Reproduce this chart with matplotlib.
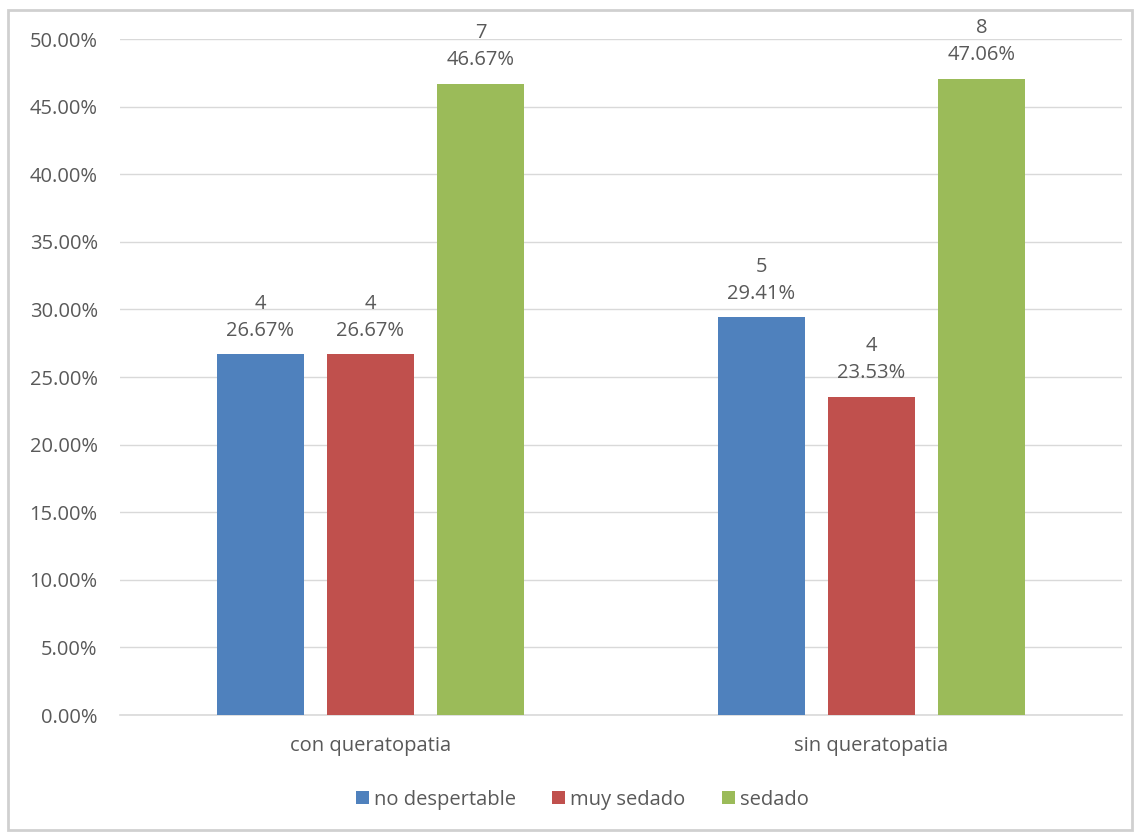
import matplotlib.pyplot as plt
import numpy as np
from matplotlib.patches import Rectangle
from matplotlib.ticker import FuncFormatter

plt.rcParams['font.family'] = ['Open Sans', 'DejaVu Sans']

groups = ["con queratopatia", "sin queratopatia"]
series = ["no despertable", "muy sedado", "sedado"]
counts = [[4, 5], [4, 4], [7, 8]]
percents = [[26.67, 29.41], [26.67, 23.53], [46.67, 47.06]]
colors = ["#4F81BD", "#C0504D", "#9BBB59"]

text_color = "#595959"
grid_color = "#D9D9D9"
fs = 14.5

fig = plt.figure(figsize=(11.35, 8.32), dpi=100)
ax = fig.add_axes([0.1057, 0.1406, 0.8828, 0.8125])

x = np.arange(len(groups))
width = 0.174
offsets = [-0.22, 0.0, 0.22]

for i, name in enumerate(series):
    vals = np.array(percents[i]) / 100
    bars = ax.bar(x + offsets[i], vals, width, color=colors[i], label=name, zorder=3)
    for b, c, p in zip(bars, counts[i], percents[i]):
        ax.annotate(f"{c}\n{p:.2f}%", (b.get_x() + b.get_width() / 2, b.get_height()),
                    xytext=(0, 10), textcoords="offset points", ha="center", va="bottom",
                    fontsize=fs, color=text_color, linespacing=1.45)

ax.set_xlim(-0.5, 1.5)
ax.set_ylim(0, 0.5)
ax.set_yticks(np.arange(0, 0.501, 0.05))
ax.yaxis.set_major_formatter(FuncFormatter(lambda v, _: f"{v * 100:.2f}%"))
ax.set_xticks(x)
ax.set_xticklabels(groups)
ax.tick_params(axis="both", length=0, labelsize=fs, labelcolor=text_color)
ax.tick_params(axis="x", pad=15)
ax.tick_params(axis="y", pad=16)
ax.grid(axis="y", color=grid_color, linewidth=1.0, zorder=0)
for s in ["top", "right", "left"]:
    ax.spines[s].set_visible(False)
ax.spines["bottom"].set_color(grid_color)
ax.spines["bottom"].set_linewidth(1.2)

leg = fig.legend(loc="center", bbox_to_anchor=(0.513, 0.039), ncol=3, frameon=False,
                 fontsize=fs, handlelength=0.65, handleheight=0.65, handletextpad=0.25,
                 columnspacing=1.8)
for t in leg.get_texts():
    t.set_color(text_color)

# outer chart frame
fig.patches.append(Rectangle((0.007, 0.002), 0.99, 0.986, transform=fig.transFigure,
                             fill=False, edgecolor="#D0D0D0", linewidth=2))

fig.savefig("out.png", dpi=100)
